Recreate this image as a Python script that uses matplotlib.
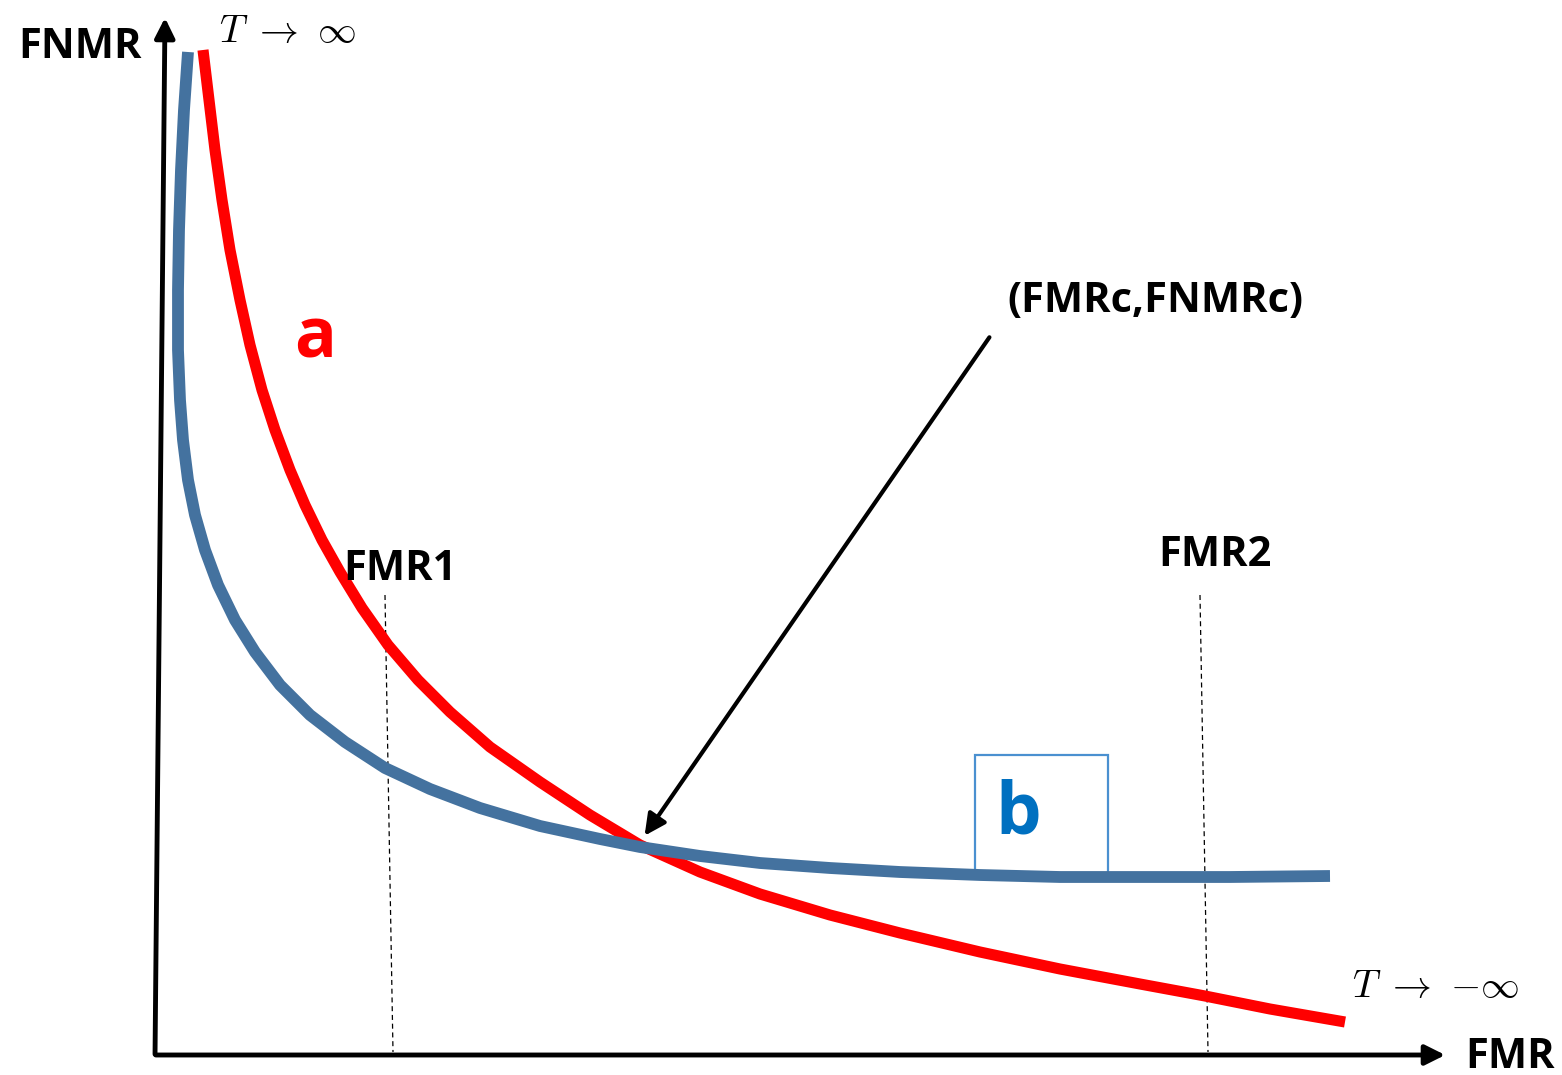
import numpy as np
import matplotlib.pyplot as plt

plt.rcParams['font.family'] = ['Open Sans', 'DejaVu Sans']
plt.rcParams['mathtext.fontset'] = 'cm'

# curve points (pixel-like units, y grows downward)
red_x = [203, 209, 215, 222, 230, 240, 250, 262, 275, 290, 305, 322, 340, 362, 388, 418,
         450, 490, 540, 590, 640, 700, 760, 830, 900, 980, 1060, 1140, 1205, 1270, 1345]
red_y = [50, 100, 150, 200, 250, 300, 345, 390, 430, 470, 505, 540, 572, 608, 645, 680,
         712, 747, 782, 815, 845, 872, 894, 915, 933, 952, 969, 984, 996, 1009, 1022]

blue_x = [188, 184, 181, 179, 178, 178, 180, 183, 188, 195, 205, 218, 235, 255, 280, 310,
          345, 385, 430, 480, 540, 600, 640, 700, 760, 830, 900, 980, 1060, 1140, 1230, 1330]
blue_y = [52, 110, 170, 230, 290, 350, 400, 440, 480, 515, 550, 585, 620, 652, 685, 715,
          742, 768, 789, 808, 826, 839, 847, 856, 863, 868, 872, 875, 877, 877, 877, 876]

fmr1_x = [385, 393]
fmr2_x = [1200, 1208]
dash_y = [595, 1052]

fig = plt.figure(figsize=(15.62, 10.75), dpi=100)
ax = fig.add_axes([0, 0, 1, 1])
ax.set_xlim(0, 1562)
ax.set_ylim(1075, 0)
ax.axis('off')

# axes arrows
ax.annotate('', xy=(165, 15), xytext=(155, 1057),
            arrowprops=dict(arrowstyle='-|>', color='black', lw=3.5, mutation_scale=30))
ax.annotate('', xy=(1448, 1055), xytext=(153, 1055),
            arrowprops=dict(arrowstyle='-|>', color='black', lw=3.5, mutation_scale=30))

# dashed guides
ax.plot(fmr1_x, dash_y, color='black', lw=0.9, ls=(0, (4, 3)))
ax.plot(fmr2_x, dash_y, color='black', lw=0.9, ls=(0, (4, 3)))

# box around b
ax.add_patch(plt.Rectangle((975, 755), 133, 118, fill=False, edgecolor='#4a90d0', lw=1.6, zorder=2))

ax.plot(red_x, red_y, color='#ff0000', lw=8, solid_capstyle='butt', solid_joinstyle='round', zorder=3)
ax.plot(blue_x, blue_y, color='#44729f', lw=8.5, solid_capstyle='butt', solid_joinstyle='round', zorder=4)

# pointer to crossing
ax.annotate('', xy=(643, 838), xytext=(991, 335),
            arrowprops=dict(arrowstyle='-|>', color='black', lw=3, mutation_scale=32))

bold = dict(fontweight='bold', color='black')
ax.text(80, 48, 'FNMR', fontsize=30, ha='center', va='center', **bold)
ax.text(1510, 1057, 'FMR', fontsize=30, ha='center', va='center', **bold)
ax.text(400, 570, 'FMR1', fontsize=30, ha='center', va='center', **bold)
ax.text(1215, 555, 'FMR2', fontsize=30, ha='center', va='center', **bold)
ax.text(1155, 302, '(FMRc,FNMRc)', fontsize=30, ha='center', va='center', **bold)
ax.text(315, 340, 'a', fontsize=50, ha='center', va='center', fontweight='bold', color='#ff0000')
ax.text(1018, 815, 'b', fontsize=52, ha='center', va='center', fontweight='bold', color='#0070c0')
ax.text(287, 32, r'$T\ \rightarrow\ \infty$', fontsize=28, ha='center', va='center')
ax.text(1435, 987, r'$T\ \rightarrow\ {-\infty}$', fontsize=28, ha='center', va='center')

fig.savefig('out.png', dpi=100)
